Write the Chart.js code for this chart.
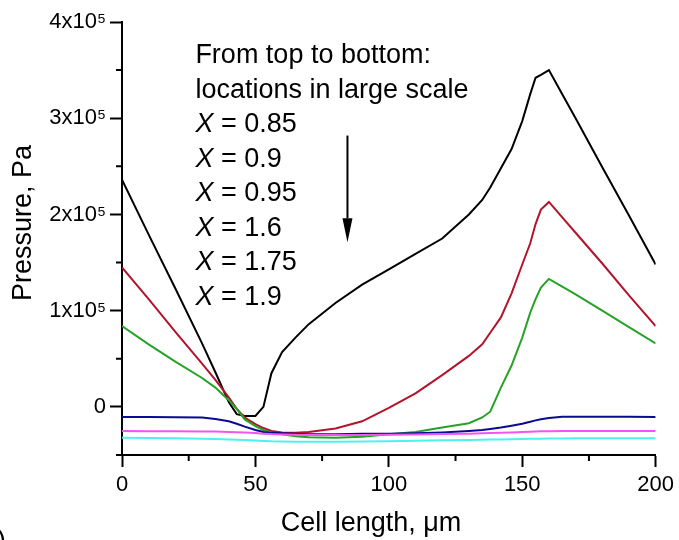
<!DOCTYPE html>
<html>
<head>
<meta charset="utf-8">
<script src="https://cdn.jsdelivr.net/npm/chart.js@4.4.1/dist/chart.umd.min.js"></script>
<style>
html,body{margin:0;padding:0;background:#fff}
#wrap{width:679px;height:540px}
</style>
</head>
<body>
<div id="wrap"><canvas id="chart" width="679" height="540"></canvas></div>
<script>
// cell length, um (shared sample points)
var cellX = [0, 10, 20, 30, 35, 40, 43, 46, 50, 53, 56, 60, 65, 70, 80, 90, 100, 110, 120, 130,
             135, 138, 142, 146, 150, 153, 155, 157, 160, 165, 170, 180, 190, 200];

// pressure, Pa
var pX085 = [236000, 179000, 123000, 66000, 36000, 5000, -7500, -9500, -9500, 0, 35000, 57000, 72000, 86000,
             108000, 127000, 143000, 159000, 175000, 200000, 215000, 228000, 248000, 268000, 297000, 325000,
             342000, 345000, 350000, 325000, 300000, 249000, 199000, 148000];
var pX090 = [145000, 112000, 78000, 45000, 28000, 10000, -2000, -11000, -18000, -22000, -25000, -26500,
             -27000, -26000, -22500, -15000, -1000, 14000, 33000, 53000, 65000, 77000, 93000, 118000, 148000,
             170000, 190000, 205000, 213000, 197000, 181000, 149000, 116000, 84000];
var pX095 = [84000, 65000, 47000, 30000, 20000, 7000, -2000, -13000, -20000, -24000, -26500, -28500, -30500,
             -31500, -32000, -31000, -28500, -26000, -21500, -17000, -11000, -5000, 20000, 43000, 72000, 98000,
             112000, 124000, 133000, 125000, 117000, 100000, 83000, 66000];
var pX160 = [-10500, -10500, -10800, -11000, -12500, -15000, -17500, -20500, -24000, -26000, -27000, -27500,
             -28000, -28500, -28500, -28000, -28000, -27500, -26500, -25000, -24000, -23000, -21500, -19500,
             -17500, -15500, -14000, -12800, -11500, -10300, -10200, -10200, -10300, -10500];
var pX175 = [-25000, -25200, -25400, -25600, -25700, -26000, -26300, -26600, -27200, -27800, -28300, -28700,
             -29000, -29200, -29300, -29200, -29000, -28700, -28300, -27800, -27500, -27200, -26900, -26500,
             -26100, -25800, -25600, -25400, -25200, -25100, -25000, -25000, -25000, -25000];
var pX190 = [-32000, -32300, -32700, -33200, -33500, -33900, -34200, -34500, -35000, -35400, -35800, -36000,
             -36200, -36300, -36200, -36000, -35600, -35200, -34800, -34400, -34200, -34000, -33800, -33600,
             -33400, -33200, -33100, -33000, -32900, -32800, -32700, -32600, -32600, -32600];

var seriesNames = ['0.85', '0.9', '0.95', '1.6', '1.75', '1.9'];
var seriesData = [pX085, pX090, pX095, pX160, pX175, pX190];
var seriesColors = ['#000000', '#b3142b', '#26a326', '#0a0a92', '#f256f2', '#4ff0f0'];

var xTicks = [0, 50, 100, 150, 200];
var xMinor = [25, 75, 125, 175];
var yTicks = [0, 100000, 200000, 300000, 400000];
var yMinor = [-50000, 50000, 150000, 250000, 350000];

var xTitle = 'Cell length, \u03bcm';
var yTitle = 'Pressure, Pa';

var FONT = '"Liberation Sans", Arial, sans-serif';

function pts(ys) {
    return cellX.map(function(x, i){ return {x: x, y: ys[i]}; });
}

var datasets = seriesData.map(function(d, i){
    return {
        label: 'X = ' + seriesNames[i],
        data: pts(d),
        borderColor: seriesColors[i],
        borderWidth: 2,
        pointRadius: 0,
        tension: 0,
        fill: false
    };
}).reverse();

var minorTicks = {
    id: 'minorTicks',
    afterDraw: function(chart){
        var ctx = chart.ctx, xs = chart.scales.x, ys = chart.scales.y;
        var b = chart.chartArea;
        ctx.save();
        ctx.strokeStyle = '#000';
        ctx.lineWidth = 2;
        ctx.beginPath();
        xMinor.forEach(function(v){
            var p = xs.getPixelForValue(v);
            ctx.moveTo(p, b.bottom); ctx.lineTo(p, b.bottom + 6);
        });
        yMinor.forEach(function(v){
            var p = ys.getPixelForValue(v);
            ctx.moveTo(b.left, p); ctx.lineTo(b.left - 6, p);
        });
        ctx.stroke();
        ctx.restore();
    }
};

var note = {
    id: 'note',
    afterDraw: function(chart){
        var ctx = chart.ctx, xs = chart.scales.x, ys = chart.scales.y;
        var b = chart.chartArea;
        ctx.save();
        ctx.fillStyle = '#000';
        ctx.textBaseline = 'middle';
        var left = xs.getPixelForValue(27.5);
        var top = ys.getPixelForValue(365000);
        var step = 34.5;
        ctx.font = '27px ' + FONT;
        ctx.fillText('From top to bottom:', left, top);
        ctx.fillText('locations in large scale', left, top + step);
        seriesNames.forEach(function(n, i){
            var y = top + step * (i + 2);
            ctx.font = 'italic 27px ' + FONT;
            ctx.fillText('X', left, y);
            var w = ctx.measureText('X').width;
            ctx.font = '27px ' + FONT;
            ctx.fillText(' = ' + n, left + w, y);
        });
        // arrow
        var ax = xs.getPixelForValue(84.5);
        var y0 = ys.getPixelForValue(282000);
        var y1 = ys.getPixelForValue(171000);
        var yh = ys.getPixelForValue(196000);
        ctx.strokeStyle = '#000';
        ctx.lineWidth = 2;
        ctx.beginPath();
        ctx.moveTo(ax, y0); ctx.lineTo(ax, yh);
        ctx.stroke();
        ctx.beginPath();
        ctx.moveTo(ax - 5, yh); ctx.lineTo(ax + 5, yh); ctx.lineTo(ax, y1); ctx.closePath();
        ctx.fill();
        // axis titles
        ctx.font = '27px ' + FONT;
        ctx.textAlign = 'center';
        ctx.textBaseline = 'alphabetic';
        ctx.fillText(xTitle, b.left + 249, b.bottom + 76);
        ctx.save();
        ctx.translate(31, b.top + 201);
        ctx.rotate(-Math.PI / 2);
        ctx.fillText(yTitle, 0, 0);
        ctx.restore();
        // panel letter, cut by the edge
        ctx.font = '27px ' + FONT;
        ctx.textAlign = 'right';
        ctx.fillText('(a)', 6, 549);
        ctx.restore();
    }
};

new Chart(document.getElementById('chart'), {
    type: 'line',
    data: {datasets: datasets},
    plugins: [minorTicks, note],
    options: {
        responsive: false,
        devicePixelRatio: 1,
        animation: false,
        layout: {padding: {top: 22, right: 22, left: 0, bottom: 0}},
        plugins: {legend: {display: false}, tooltip: {enabled: false}},
        scales: {
            x: {
                type: 'linear',
                min: 0, max: 200,
                afterBuildTicks: function(s){ s.ticks = xTicks.map(function(v){ return {value: v}; }); },
                afterFit: function(s){ s.height = 85; },
                grid: {drawOnChartArea: false, drawTicks: true, tickLength: 12, tickColor: '#000', tickWidth: 2},
                border: {color: '#000', width: 2},
                ticks: {color: '#000', font: {family: FONT, size: 22}, padding: 5, maxRotation: 0}
            },
            y: {
                min: -50000, max: 400000,
                afterBuildTicks: function(s){ s.ticks = yTicks.map(function(v){ return {value: v}; }); },
                afterFit: function(s){ s.width = 122; },
                grid: {drawOnChartArea: false, drawTicks: true, tickLength: 12, tickColor: '#000', tickWidth: 2},
                border: {color: '#000', width: 2},
                ticks: {color: '#000', font: {family: FONT, size: 22}, padding: 4,
                        callback: function(v){ return v === 0 ? '0' : (v / 100000) + 'x10\u2075'; }}
            }
        }
    }
});
</script>
</body>
</html>
